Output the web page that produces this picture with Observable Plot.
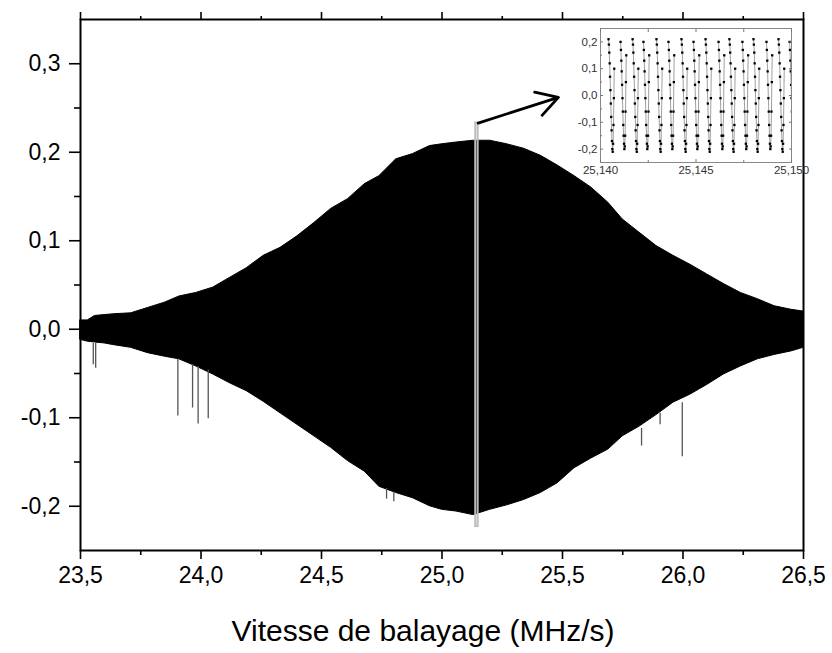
<!DOCTYPE html>
<html>
<head>
<meta charset="utf-8">
<script src="https://cdn.jsdelivr.net/npm/d3@7"></script>
<script src="https://cdn.jsdelivr.net/npm/@observablehq/plot@0.6"></script>
<style>
  body { margin: 0; background: #fff; }
  #wrap { position: relative; width: 832px; height: 653px; font-family: "Liberation Sans", Arial, sans-serif; }
  #inset { position: absolute; left: 570px; top: 23px; }
</style>
</head>
<body>
<div id="wrap"><div id="main"></div><div id="inset"></div></div>
<script>
// ---- main chart data ----
const envX = [23.50, 23.53, 23.56, 23.60, 23.64, 23.71, 23.78, 23.85, 23.91, 23.98, 24.05, 24.12, 24.19, 24.26, 24.33, 24.40, 24.47, 24.54, 24.61, 24.68, 24.74, 24.81, 24.88, 24.95, 25.00, 25.06, 25.13, 25.20, 25.27, 25.34, 25.41, 25.48, 25.55, 25.62, 25.69, 25.75, 25.82, 25.89, 25.96, 26.03, 26.10, 26.17, 26.24, 26.31, 26.38, 26.45, 26.50];
const envUpper = [0.010, 0.010, 0.015, 0.016, 0.017, 0.018, 0.024, 0.030, 0.037, 0.041, 0.047, 0.058, 0.069, 0.083, 0.092, 0.105, 0.120, 0.136, 0.147, 0.164, 0.173, 0.192, 0.198, 0.207, 0.209, 0.211, 0.213, 0.213, 0.209, 0.204, 0.196, 0.185, 0.173, 0.160, 0.143, 0.124, 0.109, 0.094, 0.083, 0.073, 0.062, 0.051, 0.041, 0.034, 0.026, 0.022, 0.020];
const envLower = [-0.012, -0.014, -0.015, -0.016, -0.018, -0.021, -0.027, -0.031, -0.034, -0.042, -0.051, -0.061, -0.070, -0.082, -0.095, -0.108, -0.121, -0.134, -0.149, -0.161, -0.178, -0.185, -0.191, -0.200, -0.204, -0.206, -0.210, -0.204, -0.199, -0.193, -0.185, -0.174, -0.157, -0.146, -0.136, -0.121, -0.110, -0.097, -0.083, -0.074, -0.063, -0.051, -0.042, -0.034, -0.029, -0.025, -0.021];

const spikeX = [23.553, 23.563, 23.904, 23.965, 23.988, 24.030, 24.770, 24.800, 25.828, 25.905, 25.997];
const spikeTop = [-0.016, -0.016, -0.034, -0.040, -0.042, -0.046, -0.180, -0.184, -0.112, -0.095, -0.083];
const spikeBottom = [-0.040, -0.044, -0.098, -0.089, -0.107, -0.101, -0.192, -0.195, -0.132, -0.108, -0.144];

const xMajor = [23.5, 24.0, 24.5, 25.0, 25.5, 26.0, 26.5];
const xMinor = [23.75, 24.25, 24.75, 25.25, 25.75, 26.25];
const yMajor = [-0.2, -0.1, 0.0, 0.1, 0.2, 0.3];
const yMinor = [-0.15, -0.05, 0.05, 0.15, 0.25];
const xTitle = ["Vitesse de balayage (MHz/s)"];

const zoomX = [25.140, 25.150];
const zoomY = [-0.223, 0.233];
const arrowFrom = [25.150, 0.233];
const arrowTo = [25.483, 0.262];

// ---- inset data ----
const insetCycleStarts = [25.14042, 25.14105, 25.14168, 25.14225, 25.14293, 25.14356, 25.14424, 25.14487, 25.14550, 25.14618, 25.14675, 25.14743, 25.14801, 25.14869, 25.14932, 25.14990];
const insetOffsets = [0, 2, 4, 6, 8, 10, 12, 14, 16, 18, 20, 22, 24, 26, 28, 30]; // in 1e-5 MHz/s
const insetShapeA = [0.21, 0.19, 0.16, 0.12, 0.07, 0.02, -0.03, -0.08, -0.13, -0.17, -0.20, -0.21, -0.18, -0.11, -0.01, 0.10];
const insetShapeB = [0.20, 0.17, 0.13, 0.09, 0.04, -0.01, -0.06, -0.11, -0.15, -0.18, -0.20, -0.19, -0.15, -0.06, 0.05, 0.15];
const insetXTicks = [25.140, 25.145, 25.150];
const insetXMinor = [25.1425, 25.1475];
const insetYTicks = [-0.2, -0.1, 0.0, 0.1, 0.2];
const insetYMinor = [-0.15, -0.05, 0.05, 0.15];

// ---- tables built from the arrays ----
const env = envX.map((x, i) => ({x, hi: envUpper[i], lo: envLower[i]}));
const spikes = spikeX.map((x, i) => ({x, top: spikeTop[i], bottom: spikeBottom[i]}));
const box = [{x1: zoomX[0], x2: zoomX[1], y1: zoomY[0], y2: zoomY[1]}];
const arrows = [{x1: arrowFrom[0], y1: arrowFrom[1], x2: arrowTo[0], y2: arrowTo[1]}];
const insetPts = insetCycleStarts.flatMap((s, c) => {
  const shape = c % 2 ? insetShapeB : insetShapeA;
  return insetOffsets.map((o, i) => ({x: s + o * 1e-5, y: shape[i], c}));
});

const fmt1 = d => d.toFixed(1).replace(".", ",");
const fmt3 = d => d.toFixed(3).replace(".", ",");
const none = () => "";
const font = "'Liberation Sans', Arial, sans-serif";

const main = Plot.plot({
  width: 832, height: 653,
  marginTop: 19, marginRight: 29, marginBottom: 103, marginLeft: 80,
  x: {domain: [23.5, 26.5]},
  y: {domain: [-0.25, 0.35]},
  style: {fontFamily: font, background: "white", color: "black"},
  marks: [
    Plot.areaY(env, {x: "x", y1: "lo", y2: "hi", fill: "black", stroke: "black", strokeWidth: 1}),
    Plot.ruleX(spikes, {x: "x", y1: "top", y2: "bottom", stroke: "#555", strokeWidth: 1.3}),
    Plot.rect(box, {x1: "x1", x2: "x2", y1: "y1", y2: "y2", fill: "none", stroke: "#bdbdbd", strokeWidth: 2}),
    Plot.arrow(arrows, {x1: "x1", y1: "y1", x2: "x2", y2: "y2", stroke: "black", strokeWidth: 2.8, headLength: 13}),
    Plot.frame({stroke: "black", strokeWidth: 2}),
    Plot.axisY({ticks: yMajor, tickSize: 11, tickPadding: 9, tickFormat: fmt1, fontSize: 23, label: null, strokeWidth: 1.6}),
    Plot.axisY({ticks: yMinor, tickSize: 6, tickFormat: none, label: null, strokeWidth: 1.6}),
    Plot.axisX({ticks: xMajor, anchor: "bottom", tickSize: 9, tickPadding: 7, tickFormat: fmt1, fontSize: 23, label: null, strokeWidth: 1.6}),
    Plot.axisX({ticks: xMinor, anchor: "bottom", tickSize: 5, tickFormat: none, label: null, strokeWidth: 1.6}),
    Plot.axisX({ticks: xMajor, anchor: "top", tickSize: 8, tickFormat: none, label: null, strokeWidth: 1.6}),
    Plot.axisX({ticks: xMinor, anchor: "top", tickSize: 4, tickFormat: none, label: null, strokeWidth: 1.6}),
    Plot.text(xTitle, {text: d => d, frameAnchor: "bottom", dy: 90, dx: -19, fontSize: 30})
  ]
});
document.getElementById("main").appendChild(main);

const inset = Plot.plot({
  width: 240, height: 163,
  marginTop: 5, marginRight: 19, marginBottom: 24, marginLeft: 30,
  x: {domain: [25.140, 25.150]},
  y: {domain: [-0.25, 0.25]},
  style: {fontFamily: font, background: "transparent", color: "#333"},
  marks: [
    Plot.frame({fill: "white", stroke: "#888"}),
    Plot.lineY(insetPts, {x: "x", y: "y", z: "c", stroke: "#888", strokeWidth: 0.8, clip: true}),
    Plot.dot(insetPts, {x: "x", y: "y", symbol: "square", r: 1.3, fill: "black", stroke: null, clip: true}),
    Plot.axisY({ticks: insetYTicks, tickSize: -3, tickPadding: 6, tickFormat: fmt1, fontSize: 11.5, label: null, stroke: "#777", fill: "#333"}),
    Plot.axisY({ticks: insetYMinor, tickSize: -2, tickFormat: none, label: null, stroke: "#777"}),
    Plot.axisY({ticks: insetYTicks, anchor: "right", tickSize: -3, tickFormat: none, label: null, stroke: "#777"}),
    Plot.axisX({ticks: insetXTicks, anchor: "bottom", tickSize: -3, tickPadding: 6, tickFormat: fmt3, fontSize: 11.5, label: null, stroke: "#777", fill: "#333"}),
    Plot.axisX({ticks: insetXMinor, anchor: "bottom", tickSize: -2, tickFormat: none, label: null, stroke: "#777"}),
    Plot.axisX({ticks: insetXTicks.concat(insetXMinor), anchor: "top", tickSize: -3, tickFormat: none, label: null, stroke: "#777"})
  ]
});
document.getElementById("inset").appendChild(inset);
</script>
</body>
</html>
